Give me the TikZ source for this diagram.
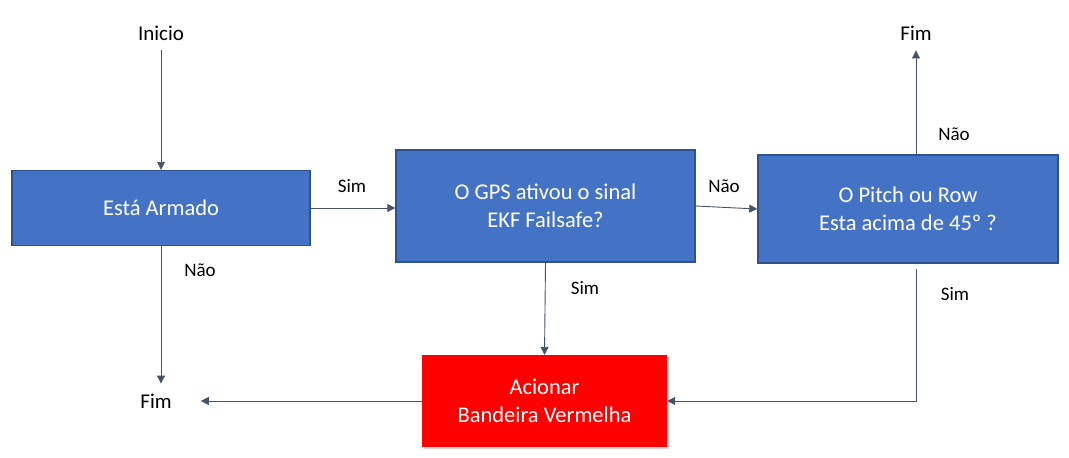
\documentclass[tikz,border=0pt]{standalone}
\usepackage{fontspec}
\setmainfont{Carlito}
\usetikzlibrary{arrows.meta,positioning,shadows}

\definecolor{boxblue}{HTML}{4472C4}
\definecolor{boxline}{HTML}{2F528F}
\definecolor{flowline}{HTML}{44546A}

\begin{document}
\begin{tikzpicture}[x=1pt,y=-1pt,
  every node/.style={inner sep=.5mm},
  block/.style={rectangle,fill=boxblue,draw=boxline,line width=1.4pt,
    text=white,align=center,font=\fontsize{22.5}{28.5}\selectfont},
  redblock/.style={rectangle,fill=red,text=white,align=center,
    font=\fontsize{22.5}{28.5}\selectfont,
    drop shadow={shadow xshift=2pt,shadow yshift=-2pt,opacity=.35}},
  term/.style={font=\fontsize{21}{24}\selectfont,inner sep=10pt},
  lbl/.style={font=\fontsize{19}{22}\selectfont},
  flow/.style={draw=flowline,line width=.9pt,-{Triangle[width=8pt,length=8pt]}}]

 \useasboundingbox (0,0) rectangle (1069,458);

 \node[term] (Inicio) at (161,33) {Inicio};
 \node[term] (FimA) at (156,401) {Fim};
 \node[term] (FimB) at (916,33) {Fim};

 \node[block,minimum width=298pt,minimum height=75pt] (Armado) at (161,208) {Está Armado};
 \node[block,minimum width=299pt,minimum height=112pt] (GPS) at (545.5,206) {O GPS ativou o sinal\\EKF Failsafe?};
 \node[block,minimum width=300pt,minimum height=108pt] (Pitch) at (908,209) {O Pitch ou Row\\Esta acima de 45º ?};
 \node[redblock,minimum width=245pt,minimum height=92pt] (Bandeira) at (544.5,401) {Acionar\\Bandeira Vermelha};

 \node[lbl] (simA) at (352,186) {Sim};
 \node[lbl] (naoA) at (200,270) {Não};
 \node[lbl] (simB) at (585,288) {Sim};
 \node[lbl] (naoB) at (724,186) {Não};
 \node[lbl] (naoC) at (954,134) {Não};
 \node[lbl] (simC) at (955,294) {Sim};

 \draw[flow] (Inicio) -- (Armado);
 \draw[flow] (Armado.east) -- (Armado.east -| GPS.west);
 \draw[flow] (Armado.south) -- (Armado.south |- FimA.north);
 \draw[flow] (GPS.south) -- (Bandeira.north);
 \draw[flow] (GPS.east) -- (Pitch.west);
 \draw[flow] (Pitch.north -| FimB) -- (FimB.south);
 \draw[flow,shorten <=5pt] (Pitch.south -| FimB) |- (Bandeira.east);
 \draw[flow,shorten >=19pt] (Bandeira.west) -- (Bandeira.west -| FimA.east);
\end{tikzpicture}
\end{document}
